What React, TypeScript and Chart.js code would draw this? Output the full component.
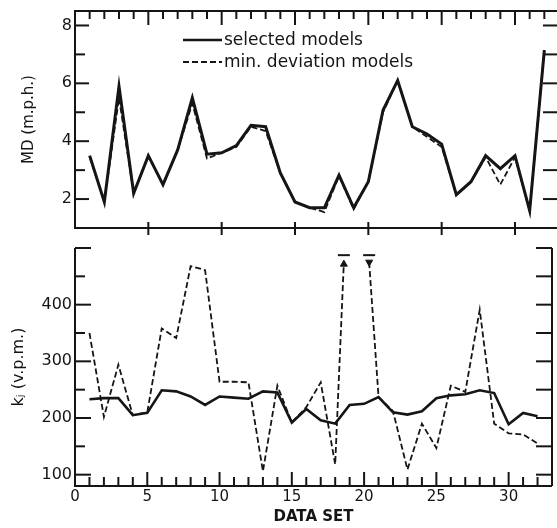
import React, { useEffect, useRef } from "react";
import { Chart, registerables } from "chart.js";

Chart.register(...registerables);

// ---- data ----
const DATA_SETS = [1, 2, 3, 4, 5, 6, 7, 8, 9, 10, 11, 12, 13, 14, 15, 16, 17, 18, 19, 20, 21, 22, 23, 24, 25, 26, 27, 28, 29, 30, 31, 32];
const MD_SELECTED = [3.5, 1.9, 5.9, 2.2, 3.5, 2.5, 3.7, 5.5, 3.55, 3.6, 3.85, 4.55, 4.5, 2.9, 1.9, 1.7, 1.7, 2.83, 1.7, 2.6, 5.07, 6.1, 4.5, 4.25, 3.9, 2.15, 2.6, 3.5, 3.05, 3.5, 1.6, 7.15];
const MD_MIN_DEV = [3.45, 1.9, 5.5, 2.2, 3.5, 2.5, 3.7, 5.3, 3.4, 3.6, 3.8, 4.5, 4.35, 2.9, 1.9, 1.7, 1.55, 2.8, 1.65, 2.6, 5.0, 6.1, 4.5, 4.15, 3.8, 2.15, 2.6, 3.45, 2.5, 3.45, 1.6, 7.15];
const KJ_SELECTED = [233, 235, 235, 205, 209, 249, 247, 238, 223, 238, 236, 234, 247, 245, 192, 216, 196, 190, 223, 225, 237, 210, 206, 212, 235, 240, 242, 249, 244, 189, 209, 203];
// null = off scale (beyond the top of the panel)
const KJ_MIN_DEV = [350, 202, 294, 205, 210, 358, 341, 468, 461, 264, 264, 263, 106, 257, 192, 219, 263, 118, null, null, 237, 212, 109, 190, 147, 257, 246, 391, 190, 173, 171, 155];
// where the off-scale dashed segments leave the panel (arrows)
const KJ_OFFSCALE = [
  { x: 18.6, y: 475, rotation: 0 },
  { x: 20.35, y: 475, rotation: 180 },
];
const X_TICKS = [0, 5, 10, 15, 20, 25, 30];
const MD_TICKS = [2, 4, 6, 8];
const KJ_TICKS = [100, 200, 300, 400];
const LEGEND_LABELS = ["selected models", "min. deviation models"];
const X_TITLE = "DATA SET";
const MD_TITLE = "MD (m.p.h.)";
const KJ_TITLE = "k\u2C7C (v.p.m.)";

// ---- style ----
const INK = "#151515";
const FONT = "'DejaVu Sans', 'Noto Sans', sans-serif";
const DASH = [6, 3];

function line(ctx: CanvasRenderingContext2D, x1: number, y1: number, x2: number, y2: number) {
  ctx.beginPath();
  ctx.moveTo(x1, y1);
  ctx.lineTo(x2, y2);
  ctx.stroke();
}

function xScale(showLabels: boolean) {
  return {
    type: "linear",
    min: 0,
    max: 33,
    display: showLabels,
    afterBuildTicks: (s: any) => {
      s.ticks = X_TICKS.map((v) => ({ value: v }));
    },
    afterFit: (s: any) => {
      s.height = showLabels ? 42 : 0;
      s.paddingLeft = 0;
      s.paddingRight = 0;
    },
    grid: { display: false, drawTicks: false },
    border: { display: false },
    ticks: { font: { family: FONT, size: 15 }, color: INK, padding: 2, autoSkip: false, maxRotation: 0 },
    title: {
      display: showLabels,
      text: X_TITLE,
      font: { family: FONT, size: 15, weight: "bold" },
      color: INK,
      padding: { top: 0, bottom: 2 },
    },
  };
}

function yScale(min: number, max: number, ticks: number[], title: string, titleSize: number, titlePad: number) {
  return {
    type: "linear",
    min,
    max,
    afterBuildTicks: (s: any) => {
      s.ticks = ticks.map((v) => ({ value: v }));
    },
    afterFit: (s: any) => {
      s.width = 75;
      s.paddingTop = 0;
      s.paddingBottom = 0;
    },
    grid: { display: false, drawTicks: false },
    border: { display: false },
    ticks: { font: { family: FONT, size: 16 }, color: INK, padding: 3, autoSkip: false },
    title: {
      display: true,
      text: title,
      font: { family: FONT, size: titleSize },
      color: INK,
      padding: { top: titlePad, bottom: 0 },
    },
  };
}

export default function App() {
  const topRef = useRef<HTMLCanvasElement>(null);
  const botRef = useRef<HTMLCanvasElement>(null);

  useEffect(() => {
    const topFrame = {
      id: "topFrame",
      afterDraw(chart: any) {
        const { ctx, chartArea: a, scales } = chart;
        const x = scales.x;
        const y = scales.y;
        ctx.save();
        ctx.setLineDash([]);
        ctx.strokeStyle = INK;
        ctx.lineWidth = 2;
        // spines
        line(ctx, a.left, a.top - 1, a.left, a.bottom + 1);
        line(ctx, a.left, a.top, a.right, a.top);
        line(ctx, a.left, a.bottom, a.right, a.bottom);
        line(ctx, a.right, a.top, a.right, a.bottom);
        // top ticks (every data set, longer every 5)
        for (const d of DATA_SETS) {
          const px = x.getPixelForValue(d);
          line(ctx, px, a.top, px, a.top + (d % 5 === 0 ? 14 : 8));
        }
        // bottom crossing ticks
        for (const v of X_TICKS) {
          if (v === 0) continue;
          const px = x.getPixelForValue(v);
          line(ctx, px, a.bottom - 6, px, a.bottom + 7);
        }
        // y ticks
        for (let v = 2; v <= 8; v++) {
          const py = y.getPixelForValue(v);
          line(ctx, a.left, py, a.left + (v % 2 === 0 ? 14 : 10), py);
          line(ctx, a.right - 16, py, a.right, py);
        }
        // legend
        const lx1 = a.left + 108;
        const lx2 = a.left + 147;
        const rows = [40, 62];
        ctx.lineWidth = 2.5;
        line(ctx, lx1, rows[0], lx2, rows[0]);
        ctx.lineWidth = 2;
        ctx.setLineDash(DASH);
        line(ctx, lx1, rows[1], lx2, rows[1]);
        ctx.setLineDash([]);
        ctx.fillStyle = INK;
        ctx.font = `17px ${FONT}`;
        ctx.textBaseline = "alphabetic";
        ctx.textAlign = "left";
        ctx.fillText(LEGEND_LABELS[0], lx2 + 2, rows[0] + 5);
        ctx.fillText(LEGEND_LABELS[1], lx2 + 2, rows[1] + 5);
        ctx.restore();
      },
    };

    const botFrame = {
      id: "botFrame",
      afterDraw(chart: any) {
        const { ctx, chartArea: a, scales } = chart;
        const x = scales.x;
        const y = scales.y;
        ctx.save();
        ctx.strokeStyle = INK;
        ctx.lineWidth = 2;
        ctx.setLineDash([]);
        line(ctx, a.left, a.top, a.left, a.bottom + 1);
        line(ctx, a.left, a.bottom, a.right, a.bottom);
        line(ctx, a.right, a.top, a.right, a.bottom);
        for (const d of DATA_SETS) {
          const px = x.getPixelForValue(d);
          line(ctx, px, a.bottom, px, a.bottom - (d % 5 === 0 ? 14 : 9));
        }
        for (let v = 100; v <= 500; v += 50) {
          const py = y.getPixelForValue(v);
          line(ctx, a.left, py, a.left + (v % 100 === 0 ? 16 : 10), py);
          line(ctx, a.right - 16, py, a.right, py);
        }
        ctx.restore();
      },
    };

    const top = new Chart(topRef.current!, {
      type: "line",
      data: {
        datasets: [
          {
            label: LEGEND_LABELS[0],
            data: DATA_SETS.map((d, i) => ({ x: d, y: MD_SELECTED[i] })),
            borderColor: INK,
            borderWidth: 3,
            pointRadius: 0,
            tension: 0,
            fill: false,
          },
          {
            label: LEGEND_LABELS[1],
            data: DATA_SETS.map((d, i) => ({ x: d, y: MD_MIN_DEV[i] })),
            borderColor: INK,
            borderWidth: 1.8,
            borderDash: DASH,
            pointRadius: 0,
            tension: 0,
            fill: false,
          },
        ],
      },
      options: {
        responsive: false,
        animation: false,
        devicePixelRatio: 1,
        layout: { padding: { top: 11, right: 1, bottom: 12, left: 0 } },
        plugins: { legend: { display: false }, tooltip: { enabled: false } },
        scales: {
          x: xScale(false) as any,
          y: yScale(1, 8.5, MD_TICKS, MD_TITLE, 15, 20) as any,
        },
      },
      plugins: [topFrame],
    });

    const minDevPoints: any[] = DATA_SETS.map((d, i) => ({ x: d, y: KJ_MIN_DEV[i] }));
    KJ_OFFSCALE.forEach((o) => minDevPoints.push({ x: o.x, y: o.y }));
    minDevPoints.sort((p, q) => p.x - q.x);

    const bot = new Chart(botRef.current!, {
      type: "line",
      data: {
        datasets: [
          {
            label: LEGEND_LABELS[0],
            data: DATA_SETS.map((d, i) => ({ x: d, y: KJ_SELECTED[i] })),
            borderColor: INK,
            borderWidth: 2.6,
            pointRadius: 0,
            tension: 0,
            fill: false,
          },
          {
            label: LEGEND_LABELS[1],
            data: minDevPoints,
            borderColor: INK,
            borderWidth: 1.8,
            borderDash: DASH,
            pointRadius: 0,
            tension: 0,
            fill: false,
            spanGaps: false,
          },
          {
            label: "off-scale arrow",
            data: KJ_OFFSCALE.map((o) => ({ x: o.x, y: o.y })),
            showLine: false,
            pointStyle: "triangle",
            pointRadius: 4,
            pointRotation: KJ_OFFSCALE.map((o) => o.rotation),
            backgroundColor: INK,
            borderColor: INK,
            borderWidth: 1,
          },
          {
            label: "off-scale bar",
            data: KJ_OFFSCALE.map((o) => ({ x: o.x, y: o.y })),
            showLine: false,
            pointStyle: "line",
            pointRadius: 6,
            borderColor: INK,
            borderWidth: 2,
            clip: false,
            pointHitRadius: 0,
          } as any,
        ],
      },
      options: {
        responsive: false,
        animation: false,
        devicePixelRatio: 1,
        layout: { padding: { top: 3, right: 1, bottom: 0, left: 0 } },
        plugins: { legend: { display: false }, tooltip: { enabled: false } },
        scales: {
          x: xScale(true) as any,
          y: yScale(80, 500, KJ_TICKS, KJ_TITLE, 16, 9) as any,
        },
      },
      plugins: [
        botFrame,
        {
          id: "barOffset",
          afterDatasetsUpdate(chart: any) {
            // lift the T bar a few px above the arrow tip
            const meta = chart.getDatasetMeta(3);
            meta.data.forEach((el: any) => {
              el.y -= 7;
            });
            const meta2 = chart.getDatasetMeta(2);
            meta2.data.forEach((el: any, i: number) => {
              el.y += KJ_OFFSCALE[i].rotation === 0 ? 2 : 0;
            });
          },
        },
      ],
    });

    return () => {
      top.destroy();
      bot.destroy();
    };
  }, []);

  return (
    <div style={{ position: "absolute", left: 0, top: 0, width: 557, height: 528, overflow: "hidden", background: "#fff" }}>
      <canvas ref={topRef} width={560} height={240} style={{ position: "absolute", left: 0, top: 0, width: 560, height: 240 }} />
      <canvas ref={botRef} width={560} height={288} style={{ position: "absolute", left: 0, top: 240, width: 560, height: 288 }} />
    </div>
  );
}
